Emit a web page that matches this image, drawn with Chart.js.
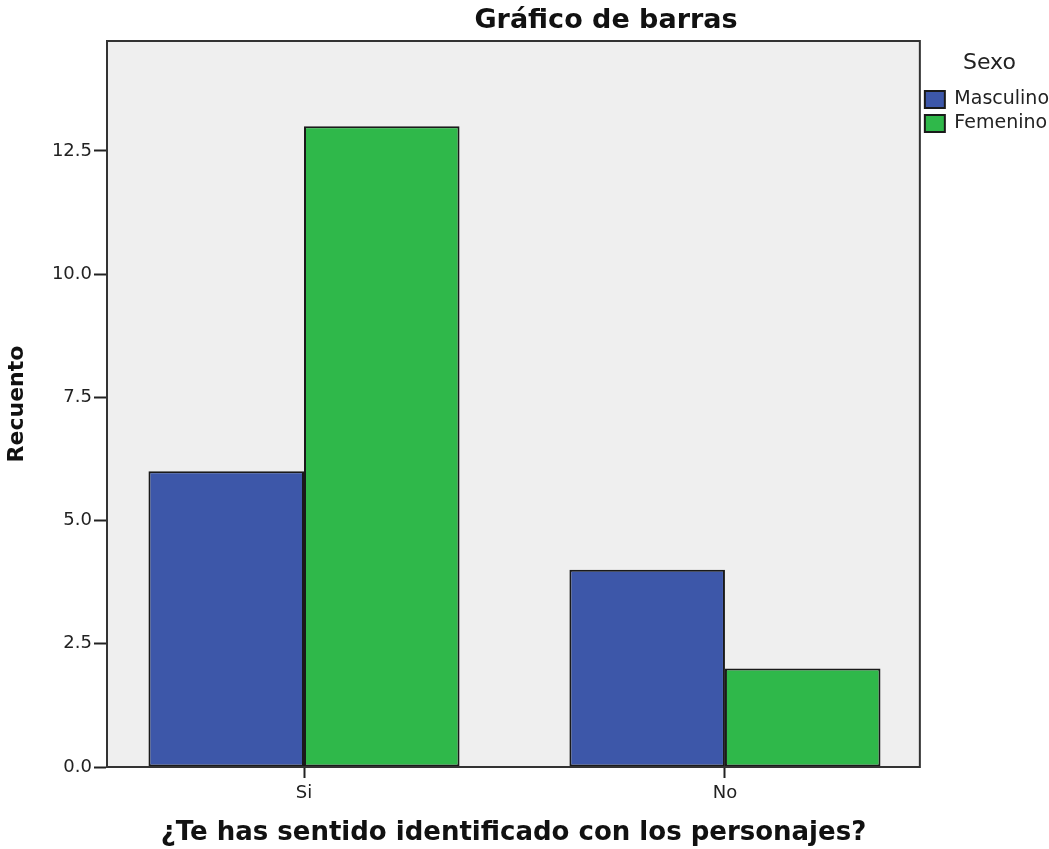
<!DOCTYPE html>
<html>
<head>
<meta charset="utf-8">
<script src="https://cdn.jsdelivr.net/npm/chart.js@4"></script>
<style>
  body { margin: 0; background: #fff; }
  #wrap { width: 1049px; height: 849px; }
</style>
</head>
<body>
<div id="wrap"><canvas id="chart"></canvas></div>
<script>
const categories = ["Si", "No"];
const masculino = [6, 4];
const femenino = [13, 2];
const yTicks = [0, 2.5, 5, 7.5, 10, 12.5];

Chart.defaults.font.family = "'DejaVu Sans', sans-serif";
Chart.defaults.color = "#222";

// grey plot background + frame, like the SPSS output
const plotFrame = {
  id: "plotFrame",
  beforeDraw(chart) {
    const { ctx, chartArea: a } = chart;
    ctx.save();
    ctx.fillStyle = "#efefef";
    ctx.fillRect(a.left, a.top, a.right - a.left, a.bottom - a.top);
    ctx.restore();
  },
  afterDatasetsDraw(chart) {
    const { ctx, chartArea: a } = chart;
    ctx.save();
    ctx.strokeStyle = "#333";
    ctx.lineWidth = 2;
    ctx.strokeRect(a.left, a.top, a.right - a.left, a.bottom - a.top);
    ctx.restore();
  }
};

const topTitle = {
  id: "topTitle",
  afterDraw(chart) {
    const ctx = chart.ctx;
    ctx.save();
    ctx.font = "bold 27px 'DejaVu Sans'";
    ctx.fillStyle = "#111";
    ctx.textAlign = "center";
    ctx.textBaseline = "alphabetic";
    ctx.fillText("Gráfico de barras", 606, 28);
    ctx.restore();
  }
};

const ctx = document.getElementById("chart").getContext("2d");
new Chart(ctx, {
  type: "bar",
  data: {
    datasets: [
      {
        label: "Masculino",
        data: categories.map((c, i) => ({ x: i, y: masculino[i] })),
        backgroundColor: "#3d57a9",
        borderColor: "#1a1a1a",
        borderWidth: 2,
        borderSkipped: false
      },
      {
        label: "Femenino",
        data: categories.map((c, i) => ({ x: i, y: femenino[i] })),
        backgroundColor: "#2fb84a",
        borderColor: "#1a1a1a",
        borderWidth: 2,
        borderSkipped: false
      }
    ]
  },
  options: {
    responsive: true,
    maintainAspectRatio: false,
    animation: false,
    layout: { padding: { top: 41, right: -10, left: 0, bottom: 0 } },
    datasets: {
      bar: { categoryPercentage: 0.739, barPercentage: 1 }
    },
    scales: {
      x: {
        type: "linear",
        offset: false,
        min: -0.468,
        max: 1.463,
        afterBuildTicks: (scale) => {
          scale.ticks = categories.map((c, i) => ({ value: i }));
        },
        afterFit: (scale) => { scale.height = 82; },
        ticks: {
          font: { size: 18 },
          color: "#222",
          padding: 5,
          callback: (v) => categories[v]
        },
        grid: { offset: false, drawOnChartArea: false, tickLength: 11, tickColor: "#222", tickWidth: 2 },
        border: { display: true, color: "#333", width: 2 },
        title: {
          display: true,
          text: "¿Te has sentido identificado con los personajes?",
          font: { size: 26, weight: "bold" },
          color: "#111",
          padding: { top: 0, bottom: 0 }
        }
      },
      y: {
        min: 0,
        max: 14.73,
        afterBuildTicks: (scale) => {
          scale.ticks = yTicks.map((v) => ({ value: v }));
        },
        afterFit: (scale) => { scale.width = 107; },
        ticks: {
          font: { size: 18 },
          color: "#222",
          padding: 2,
          callback: (v) => v.toFixed(1)
        },
        grid: { drawOnChartArea: false, tickLength: 13, tickColor: "#222", tickWidth: 2 },
        border: { display: true, color: "#333", width: 2 },
        title: {
          display: true,
          text: "Recuento",
          font: { size: 22, weight: "bold" },
          color: "#111",
          padding: { top: 4, bottom: 0 }
        }
      }
    },
    plugins: {
      legend: {
        position: "right",
        align: "start",
        title: {
          display: true,
          text: "Sexo",
          font: { size: 22 },
          color: "#222",
          padding: { top: 11, bottom: 6.6 }
        },
        labels: {
          boxWidth: 20,
          boxHeight: 17,
          padding: 5,
          font: { size: 19 },
          color: "#222"
        }
      },
      tooltip: { enabled: false }
    }
  },
  plugins: [plotFrame, topTitle]
});
</script>
</body>
</html>
